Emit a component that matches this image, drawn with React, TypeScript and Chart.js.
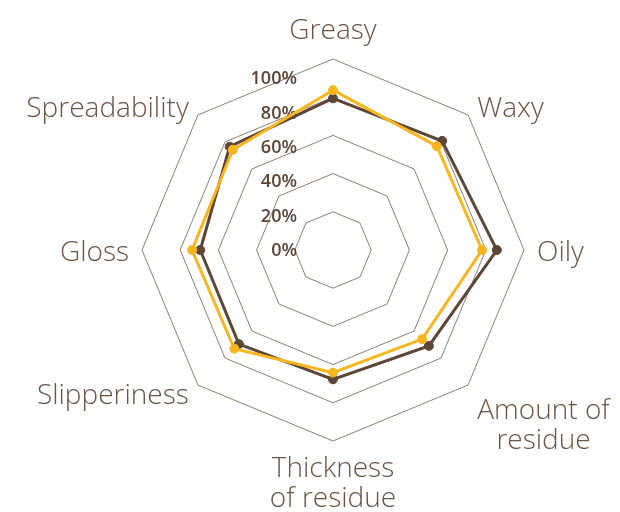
import React, { useEffect, useRef } from "react";
import { Chart, registerables } from "chart.js";

Chart.register(...registerables);

const categories: string[][] = [
  ["Greasy"],
  ["Waxy"],
  ["Oily"],
  ["Amount of", "residue"],
  ["Thickness", "of residue"],
  ["Slipperiness"],
  ["Gloss"],
  ["Spreadability"],
];
const seriesYellow = [83.7, 76.9, 78, 66, 64.2, 73.1, 73.8, 74.2];
const seriesDark = [79.4, 80.8, 85.8, 71, 67.7, 69.7, 69.5, 76.5];
const tickValues = [0, 20, 40, 60, 80, 100];
const tickLabels = ["0%", "20%", "40%", "60%", "80%", "100%"];

const DARK = "#5e4636";
const YELLOW = "#f8b61e";
const TEXT = "#6b5444";
const TICK_TEXT = "#5e4636";
const LABEL_FONT = "300 28px 'Open Sans'";
const LABEL_LH = 30;
const LABEL_PAD = 13;

const tickLabelPlugin = {
  id: "tickLabelPlugin",
  beforeDatasetsDraw(chart: any) {
    const scale = chart.scales.r;
    const ctx = chart.ctx;
    ctx.save();
    ctx.font = "600 18px 'Open Sans'";
    ctx.fillStyle = TICK_TEXT;
    ctx.textAlign = "right";
    ctx.textBaseline = "middle";
    tickValues.forEach((v, i) => {
      const d = scale.getDistanceFromCenterForValue(v) * 0.9;
      ctx.fillText(tickLabels[i], scale.xCenter - 36, scale.yCenter - d + 1);
    });
    ctx.restore();
  },
};

const pointLabelPlugin = {
  id: "pointLabelPlugin",
  afterDraw(chart: any) {
    const scale = chart.scales.r;
    const ctx = chart.ctx;
    ctx.save();
    ctx.font = LABEL_FONT;
    ctx.fillStyle = TEXT;
    ctx.textBaseline = "middle";
    categories.forEach((lines, i) => {
      const angle = (Math.PI * 2 * i) / categories.length;
      const s = Math.sin(angle);
      const c = Math.cos(angle);
      const p = scale.getPointPosition(i, scale.drawingArea + LABEL_PAD);
      const n = lines.length;
      const widths = lines.map((l) => ctx.measureText(l).width);
      const maxW = Math.max(...widths);
      let cx: number;
      if (s > 0.01) cx = p.x + maxW / 2;
      else if (s < -0.01) cx = p.x - maxW / 2;
      else cx = p.x;
      let firstY: number;
      if (Math.abs(s) < 0.01) {
        if (c > 0) firstY = p.y - LABEL_LH / 2 - (n - 1) * LABEL_LH;
        else firstY = p.y + LABEL_LH / 2;
      } else if (c < -0.01) {
        firstY = p.y + ((n - 1) * LABEL_LH) / 2 + 2;
      } else {
        firstY = p.y - ((n - 1) * LABEL_LH) / 2 + 3;
      }
      ctx.textAlign = "center";
      lines.forEach((l, k) => {
        ctx.fillText(l, cx, firstY + k * LABEL_LH);
      });
    });
    ctx.restore();
  },
};

export default function App() {
  const ref = useRef<HTMLCanvasElement | null>(null);
  useEffect(() => {
    if (!ref.current) return;
    const chart = new Chart(ref.current, {
      type: "radar",
      data: {
        labels: categories,
        datasets: [
          {
            label: "B",
            data: seriesYellow,
            borderColor: YELLOW,
            backgroundColor: YELLOW,
            pointBackgroundColor: YELLOW,
            pointBorderColor: YELLOW,
            borderWidth: 3,
            pointRadius: 4.5,
            pointBorderWidth: 1,
            fill: false,
          },
          {
            label: "A",
            data: seriesDark,
            borderColor: DARK,
            backgroundColor: DARK,
            pointBackgroundColor: DARK,
            pointBorderColor: DARK,
            borderWidth: 3,
            pointRadius: 4.5,
            pointBorderWidth: 1,
            fill: false,
          },
        ],
      },
      options: {
        animation: false,
        responsive: true,
        maintainAspectRatio: false,
        layout: { padding: { left: 142, right: 96, top: 59, bottom: 71 } },
        plugins: { legend: { display: false }, tooltip: { enabled: false } },
        scales: {
          r: {
            min: 0,
            max: 100,
            ticks: { stepSize: 20, display: false },
            grid: { color: "#8f7e72", lineWidth: 1 },
            angleLines: { display: false },
            pointLabels: { display: false },
          },
        },
      },
      plugins: [tickLabelPlugin, pointLabelPlugin],
    });
    return () => chart.destroy();
  }, []);
  return (
    <>
      <style>{"body{margin:0;}"}</style>
      <div style={{ width: 620, height: 512, position: "relative" }}>
        <canvas ref={ref} />
      </div>
    </>
  );
}
